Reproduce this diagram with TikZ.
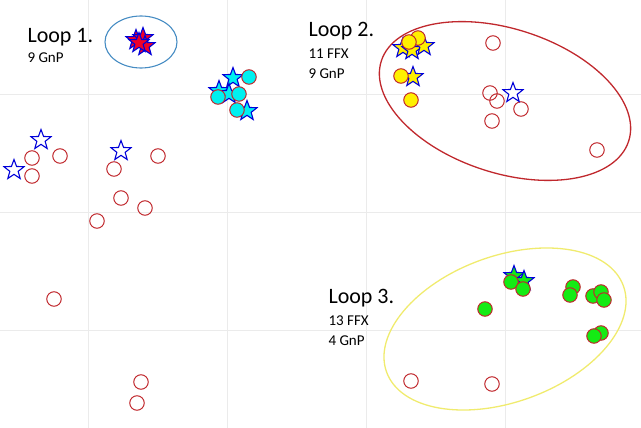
\documentclass[tikz,border=0pt]{standalone}
\usepackage{fontspec}
\setmainfont{Carlito}
\usetikzlibrary{shapes.geometric}
\definecolor{dred}{RGB}{192,40,45}
\definecolor{sblue}{RGB}{70,140,195}
\definecolor{ylw}{RGB}{240,235,110}
\definecolor{aqua}{RGB}{0,240,240}
\definecolor{yel}{RGB}{255,240,0}
\definecolor{grn}{RGB}{20,235,20}
\definecolor{rd}{RGB}{240,0,40}
\begin{document}
\begin{tikzpicture}[x=1pt,y=-1pt,
 oc/.style={circle,draw=dred,line width=1pt,inner sep=0,minimum size=14.5pt},
 st/.style={star,star points=5,star point ratio=2.4,draw=blue!85!black,line width=1.1pt,inner sep=0,minimum size=21pt},
 big/.style={font=\fontsize{22}{24}\selectfont,anchor=west},
 sm/.style={font=\fontsize{15}{16}\selectfont,anchor=west}]
\useasboundingbox (0,0) rectangle (641,428);
\foreach \x in {88,227,366,505} \draw[black!8] (\x,0) -- (\x,428);
\foreach \y in {94,212,330} \draw[black!8] (0,\y) -- (641,\y);
% loop 1
\draw[sblue,line width=1.1pt] (141,42) ellipse [x radius=36,y radius=26];
\foreach[count=\i] \p in {(136,40),(143,38),(145,46),(139,43)} \node[st,fill=rd] (a\i) at \p {};
\node[big] (t1) at (24,37) {Loop 1.};
\node[sm] (t1b) at (24,58) {9 GnP};
% cyan
\foreach[count=\i] \p in {(233,78),(219,91),(229,94),(247,111)} \node[st,fill=aqua] (cs\i) at \p {};
\foreach[count=\i] \p in {(249,77),(218,97),(239,94),(237,110)} \node[oc,fill=aqua] (cc\i) at \p {};
% left
\foreach[count=\i] \p in {(41,140),(14,170),(121,151)} \node[st,fill=white] (ls\i) at \p {};
\foreach[count=\i] \p in {(32,158),(32,176),(60,156),(114,169),(158,156),(121,198),(145,208),(97,221),(54,299),(141,382),(137,403)} \node[oc] (lc\i) at \p {};
% loop 2
\draw[dred,line width=1.3pt] (505,101) ellipse [x radius=130,y radius=72,rotate=-18];
\foreach[count=\i] \p in {(403,48),(412,50),(424,46),(413,77)} \node[st,fill=yel] (ys\i) at \p {};
\foreach[count=\i] \p in {(418,38),(409,42),(401,76),(411,100)} \node[oc,fill=yel] (yc\i) at \p {};
\foreach[count=\i] \p in {(493,43),(490,93),(497,101),(521,109),(492,121),(597,150)} \node[oc] (rc\i) at \p {};
\node[st,fill=white] (rs1) at (513,93) {};
\node[big] (t2) at (305,31) {Loop 2.};
\node[sm] (t2b) at (305,54) {11 FFX};
\node[sm] (t2c) at (305,74) {9 GnP};
% loop 3
\draw[ylw,line width=1.3pt] (505,329) ellipse [x radius=126,y radius=73,rotate=20];
\foreach[count=\i] \p in {(514,276),(524,281)} \node[st,fill=grn] (gs\i) at \p {};
\foreach[count=\i] \p in {(511,282),(523,289),(485,309),(573,287),(570,295),(593,296),(601,292),(604,300),(601,333),(594,336)} \node[oc,fill=grn] (gc\i) at \p {};
\foreach[count=\i] \p in {(411,381),(492,384)} \node[oc] (bc\i) at \p {};
\node[big] (t3) at (325,298) {Loop 3.};
\node[sm] (t3b) at (325,321) {13 FFX};
\node[sm] (t3c) at (325,341) {4 GnP};
\end{tikzpicture}
\end{document}
